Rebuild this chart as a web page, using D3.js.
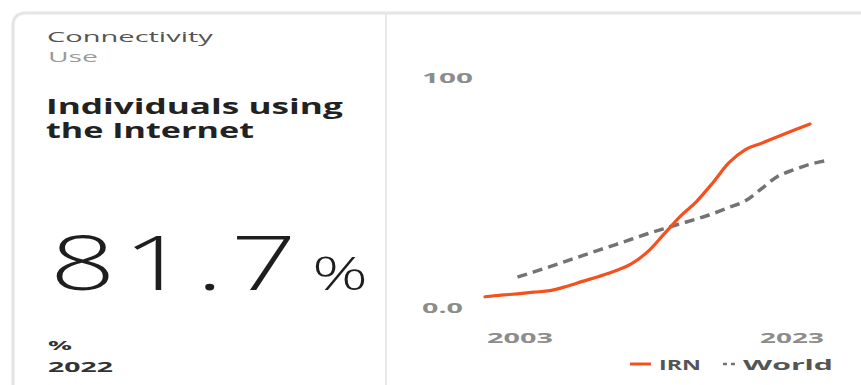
<!DOCTYPE html>
<html>
<head>
<meta charset="utf-8">
<script src="https://cdn.jsdelivr.net/npm/d3@7"></script>
<style>
    body { margin: 0; background: #fff; }
    svg { display: block; font-family: "Open Sans", "Noto Sans", sans-serif; }
</style>
</head>
<body>
<svg id="card" width="861" height="385"></svg>
<script>
// values (% of population using the Internet)
const irnYears = [2003, 2004, 2005, 2006, 2007, 2008, 2009, 2010, 2011, 2012, 2013,
    2014, 2015, 2016, 2017, 2018, 2019, 2020, 2021, 2022, 2023];
const irnValues = [1.4, 2.1, 2.7, 3.4, 4.1, 5.9, 8.1, 10.2, 12.6, 15.7, 20.9,
    28.5, 36.3, 42.7, 50.8, 59.6, 65.3, 68.1, 71.0, 73.8, 76.5];
const worldYears = [2005, 2006, 2007, 2008, 2009, 2010, 2011, 2012, 2013, 2014,
    2015, 2016, 2017, 2018, 2019, 2020, 2021, 2022, 2023, 2024];
const worldValues = [10.0, 12.2, 14.5, 16.9, 19.3, 21.7, 24.0, 26.4, 28.8, 31.0,
    33.1, 35.2, 37.5, 40.2, 43.0, 48.3, 53.7, 56.6, 59.0, 60.6];
const yTicks = [0, 100];
const yTickLabels = ["0.0", "100"];
const xTicks = [2003, 2023];
const legendNames = ["IRN", "World"];

const ORANGE = '#f4511e';
const GREY_LINE = '#737373';

const svg = d3.select('#card');

// card outline + divider
svg.append('path')
    .attr('d', 'M13,390 V26 Q13,13 26,13 H870')
    .attr('fill', 'none')
    .attr('stroke', '#f0f0f0')
    .attr('stroke-width', 4);
svg.append('path')
    .attr('d', 'M13,390 V26 Q13,13 26,13 H870')
    .attr('fill', 'none')
    .attr('stroke', '#dcdcdc')
    .attr('stroke-width', 1.2);
svg.append('line')
    .attr('x1', 386).attr('x2', 386)
    .attr('y1', 13).attr('y2', 385)
    .attr('stroke', '#e2e2e2')
    .attr('stroke-width', 1.5);

// the picture is stretched sideways: squeeze/stretch each text to its width
function fitText(t, x, y, width, anchor) {
    const natural = t.node().getComputedTextLength();
    const sx = width / natural;
    const x0 = anchor === 'end' ? x - width : x;
    t.attr('transform', 'translate(' + x0 + ',' + y + ') scale(' + sx + ',1)');
}

function addText(txt, x, y, size, weight, color, width, spacing) {
    const t = svg.append('text')
        .text(txt)
        .attr('font-size', size)
        .attr('font-weight', weight)
        .attr('letter-spacing', spacing || 0)
        .attr('fill', color);
    fitText(t, x, y, width);
    return t;
}

// left panel
addText("Connectivity", 47, 42, 14.5, 500, '#555', 166);
addText("Use", 48, 62, 14.5, 400, '#9a9a9a', 50);
addText("Individuals using", 46, 114, 22, 700, '#222', 297);
addText("the Internet", 46, 138, 22, 700, '#222', 208);
addText("81.7", 50, 290, 76, 300, '#1e1e1e', 254, 5);
addText("%", 312, 290, 46, 300, '#1e1e1e', 56);
addText("%", 48, 350, 13, 700, '#333', 24);
addText("2022", 48, 372, 14.5, 700, '#333', 65);

// chart
const x = d3.scaleLinear().domain([2003, 2023]).range([485, 810]);
const y = d3.scaleLinear().domain([0, 100]).range([300, 70]);

svg.selectAll('.ytick')
    .data(yTicks)
    .enter().append('text')
    .attr('class', 'ytick')
    .text((d, i) => yTickLabels[i])
    .attr('font-size', 15)
    .attr('font-weight', 700)
    .attr('fill', '#8c8c8c')
    .each(function (d, i) {
        fitText(d3.select(this), 422, y(d) + 13, i === 0 ? 41 : 51);
    });

svg.selectAll('.xtick')
    .data(xTicks)
    .enter().append('text')
    .attr('class', 'xtick')
    .text(d => d)
    .attr('font-size', 15)
    .attr('font-weight', 700)
    .attr('fill', '#8c8c8c')
    .each(function (d, i) {
        if (i === 0) fitText(d3.select(this), x(d) + 2, 343, 66);
        else fitText(d3.select(this), x(d) + 14, 343, 64, 'end');
    });

const line = d3.line()
    .x(d => x(d[0]))
    .y(d => y(d[1]))
    .curve(d3.curveMonotoneX);

svg.append('path')
    .datum(d3.zip(worldYears, worldValues))
    .attr('d', line)
    .attr('fill', 'none')
    .attr('stroke', GREY_LINE)
    .attr('stroke-width', 3.5)
    .attr('stroke-dasharray', '10,6');

svg.append('path')
    .datum(d3.zip(irnYears, irnValues))
    .attr('d', line)
    .attr('fill', 'none')
    .attr('stroke', ORANGE)
    .attr('stroke-width', 3.2)
    .attr('stroke-linecap', 'round');

// legend
svg.append('line')
    .attr('x1', 630).attr('x2', 651)
    .attr('y1', 364).attr('y2', 364)
    .attr('stroke', ORANGE)
    .attr('stroke-width', 3);
addText(legendNames[0], 659, 370, 15, 700, '#555', 42);

svg.append('line')
    .attr('x1', 723).attr('x2', 736)
    .attr('y1', 364).attr('y2', 364)
    .attr('stroke', GREY_LINE)
    .attr('stroke-width', 2.5)
    .attr('stroke-dasharray', '4,4');
addText(legendNames[1], 743, 370, 15, 700, '#555', 90);
</script>
</body>
</html>
